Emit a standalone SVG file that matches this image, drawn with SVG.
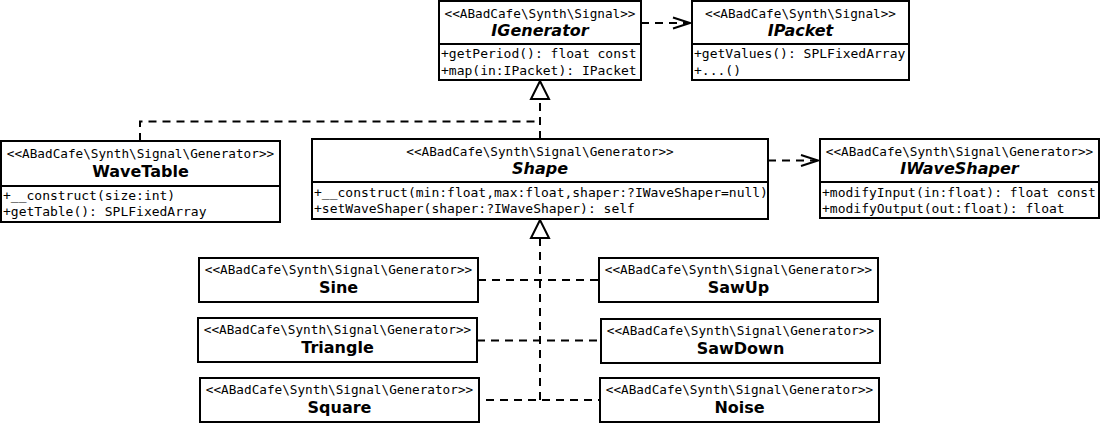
<svg xmlns="http://www.w3.org/2000/svg" width="1102" height="433" viewBox="0 0 1102 433">
<style>
.box{fill:#fff;stroke:#000;stroke-width:2}
.div{stroke:#000;stroke-width:2}
.st{font-family:"DejaVu Sans Mono",monospace;font-size:12.7px;text-anchor:middle;fill:#000}
.m{font-family:"DejaVu Sans Mono",monospace;font-size:13px;fill:#000}
.t{font-family:"DejaVu Sans",sans-serif;font-size:16px;font-weight:bold;text-anchor:middle;fill:#000}
.i{font-style:italic}
.c{fill:none;stroke:#000;stroke-width:2;stroke-dasharray:8,6}
.ah{fill:none;stroke:#000;stroke-width:2}
.tri{fill:#fff;stroke:#000;stroke-width:2}
</style>
<rect width="1102" height="433" fill="#fff"/>
<g id="connectors">
<path class="c" d="M641,23 H688"/>
<path class="ah" d="M673,17.5 L690,23 L673,28.5"/>
<path class="c" d="M768,160.5 H816"/>
<path class="ah" d="M801,155 L818,160.5 L801,166"/>
<path class="c" d="M540,139 V99"/>
<path class="c" d="M140,141 V121.5 H540"/>
<polygon class="tri" points="540,81 531,99 549,99"/>
<path class="c" d="M540,400 V238"/>
<polygon class="tri" points="540,220 531,238 549,238"/>
<path class="c" d="M478,280 H599"/>
<path class="c" d="M477,340.5 H601"/>
<path class="c" d="M486,400 H600"/>
</g>
<g id="IGenerator">
<rect class="box" x="439" y="1" width="202" height="79"/>
<line class="div" x1="439" y1="44" x2="641" y2="44"/>
<text class="st" x="540" y="18">&lt;&lt;ABadCafe\Synth\Signal&gt;&gt;</text>
<text class="t i" x="540" y="36">IGenerator</text>
<text class="m" x="441" y="58">+getPeriod(): float const</text>
<text class="m" x="441" y="75">+map(in:IPacket): IPacket</text>
</g>
<g id="IPacket">
<rect class="box" x="692" y="1" width="217" height="79"/>
<line class="div" x1="692" y1="44" x2="909" y2="44"/>
<text class="st" x="800.5" y="18">&lt;&lt;ABadCafe\Synth\Signal&gt;&gt;</text>
<text class="t i" x="800.5" y="36">IPacket</text>
<text class="m" x="694" y="58">+getValues(): SPLFixedArray</text>
<text class="m" x="694" y="75">+...()</text>
</g>
<g id="WaveTable">
<rect class="box" x="1" y="141" width="279" height="81"/>
<line class="div" x1="1" y1="186" x2="280" y2="186"/>
<text class="st" x="140.5" y="158">&lt;&lt;ABadCafe\Synth\Signal\Generator&gt;&gt;</text>
<text class="t" x="140.5" y="177">WaveTable</text>
<text class="m" x="3" y="200">+__construct(size:int)</text>
<text class="m" x="3" y="216">+getTable(): SPLFixedArray</text>
</g>
<g id="Shape">
<rect class="box" x="312" y="139" width="456" height="80"/>
<line class="div" x1="312" y1="182" x2="768" y2="182"/>
<text class="st" x="540" y="156">&lt;&lt;ABadCafe\Synth\Signal\Generator&gt;&gt;</text>
<text class="t i" x="540" y="174">Shape</text>
<text class="m" x="314" y="197">+__construct(min:float,max:float,shaper:?IWaveShaper=null)</text>
<text class="m" x="314" y="213">+setWaveShaper(shaper:?IWaveShaper): self</text>
</g>
<g id="IWaveShaper">
<rect class="box" x="820" y="139" width="279" height="79"/>
<line class="div" x1="820" y1="182" x2="1099" y2="182"/>
<text class="st" x="959.5" y="156">&lt;&lt;ABadCafe\Synth\Signal\Generator&gt;&gt;</text>
<text class="t i" x="959.5" y="174">IWaveShaper</text>
<text class="m" x="822" y="197">+modifyInput(in:float): float const</text>
<text class="m" x="822" y="213">+modifyOutput(out:float): float</text>
</g>
<g id="Sine">
<rect class="box" x="199" y="258" width="279" height="44"/>
<text class="st" x="338.5" y="274">&lt;&lt;ABadCafe\Synth\Signal\Generator&gt;&gt;</text>
<text class="t" x="338.5" y="293">Sine</text>
</g>
<g id="Triangle">
<rect class="box" x="198" y="318" width="279" height="44"/>
<text class="st" x="337.5" y="334">&lt;&lt;ABadCafe\Synth\Signal\Generator&gt;&gt;</text>
<text class="t" x="337.5" y="353">Triangle</text>
</g>
<g id="Square">
<rect class="box" x="200" y="378" width="279" height="44"/>
<text class="st" x="339.5" y="394">&lt;&lt;ABadCafe\Synth\Signal\Generator&gt;&gt;</text>
<text class="t" x="339.5" y="413">Square</text>
</g>
<g id="SawUp">
<rect class="box" x="599" y="258" width="279" height="44"/>
<text class="st" x="738.5" y="274">&lt;&lt;ABadCafe\Synth\Signal\Generator&gt;&gt;</text>
<text class="t" x="738.5" y="293">SawUp</text>
</g>
<g id="SawDown">
<rect class="box" x="601" y="319" width="279" height="44"/>
<text class="st" x="740.5" y="335">&lt;&lt;ABadCafe\Synth\Signal\Generator&gt;&gt;</text>
<text class="t" x="740.5" y="354">SawDown</text>
</g>
<g id="Noise">
<rect class="box" x="600" y="378" width="279" height="44"/>
<text class="st" x="739.5" y="394">&lt;&lt;ABadCafe\Synth\Signal\Generator&gt;&gt;</text>
<text class="t" x="739.5" y="413">Noise</text>
</g>
</svg>
